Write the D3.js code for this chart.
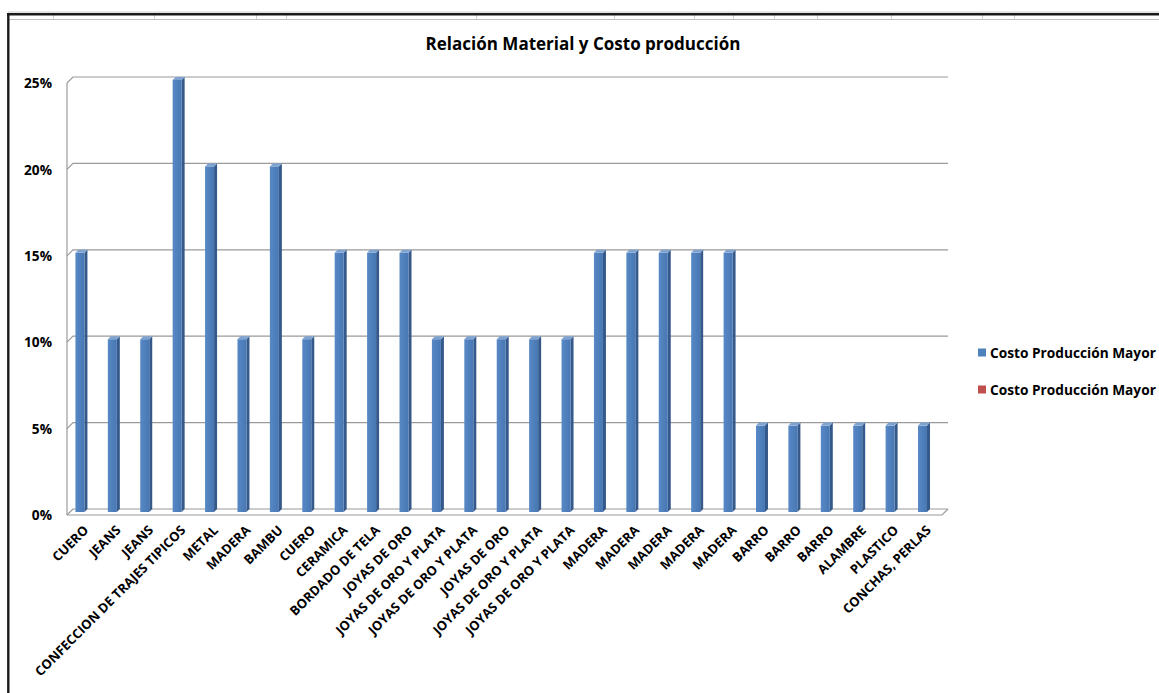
<!DOCTYPE html>
<html>
<head>
<meta charset="utf-8">
<script src="https://cdn.jsdelivr.net/npm/d3@7"></script>
<style>
  html, body { margin: 0; padding: 0; background: #fff; }
  svg { display: block; font-family: "Open Sans", Lato, sans-serif; }
</style>
</head>
<body>
<svg id="chart" width="1159" height="693"></svg>
<script>
// Materials and the share of production cost each one takes
const categories = [
  "CUERO", "JEANS", "JEANS", "CONFECCION DE TRAJES TIPICOS", "METAL", "MADERA",
  "BAMBU", "CUERO", "CERAMICA", "BORDADO DE TELA", "JOYAS DE ORO",
  "JOYAS DE ORO Y PLATA", "JOYAS DE ORO Y PLATA", "JOYAS DE ORO",
  "JOYAS DE ORO Y PLATA", "JOYAS DE ORO Y PLATA", "MADERA", "MADERA", "MADERA",
  "MADERA", "MADERA", "BARRO", "BARRO", "BARRO", "ALAMBRE", "PLASTICO",
  "CONCHAS, PERLAS"
];
const costoMayor = [
  0.15, 0.10, 0.10, 0.25, 0.20, 0.10,
  0.20, 0.10, 0.15, 0.15, 0.15,
  0.10, 0.10, 0.10,
  0.10, 0.10, 0.15, 0.15, 0.15,
  0.15, 0.15, 0.05, 0.05, 0.05, 0.05, 0.05,
  0.05
];
const seriesNames = ["Costo Producción Mayor", "Costo Producción Mayor"];
const yTicks = [0, 0.05, 0.10, 0.15, 0.20, 0.25];
const chartTitle = "Relación Material y Costo producción";

const FONT = "'Open Sans', Lato, sans-serif";
const svg = d3.select("#chart");
const W = 1159, H = 693;

svg.append("rect").attr("width", W).attr("height", H).attr("fill", "#fff");

// Spreadsheet cell strip and frame behind the chart object
const frame = svg.append("g");
const cellEdges = [53, 154, 256, 286, 476, 614, 694, 733, 774, 817, 891, 982, 1014];
frame.append("line").attr("x1", 8).attr("x2", W).attr("y1", 12).attr("y2", 12)
  .attr("stroke", "#c8c8c8").attr("stroke-width", 1);
frame.append("line").attr("x1", 8).attr("x2", W).attr("y1", 19.5).attr("y2", 19.5)
  .attr("stroke", "#bdbdbd").attr("stroke-width", 1.2);
frame.selectAll("line.cell").data(cellEdges).join("line")
  .attr("class", "cell")
  .attr("x1", d => d + 0.5).attr("x2", d => d + 0.5)
  .attr("y1", 15).attr("y2", 19)
  .attr("stroke", "#d0d0d0");
frame.append("line").attr("x1", 7).attr("x2", W).attr("y1", 14.2).attr("y2", 14.2)
  .attr("stroke", "#1a1a1a").attr("stroke-width", 2.4);
frame.append("line").attr("x1", 8.3).attr("x2", 8.3).attr("y1", 13).attr("y2", H)
  .attr("stroke", "#1a1a1a").attr("stroke-width", 2.4);

// Plot geometry (front plane plus a shallow 3D depth)
const depth = 6;
const x = d3.scaleBand().domain(d3.range(categories.length)).range([67, 942]).paddingInner(0).paddingOuter(0);
const y = d3.scaleLinear().domain([0, 0.25]).range([515, 83]);

// Title
svg.append("text")
  .attr("x", 583).attr("y", 50)
  .attr("text-anchor", "middle")
  .attr("font-family", FONT)
  .attr("font-size", 17).attr("font-weight", 700).attr("fill", "#000")
  .text(chartTitle);

// Gridlines on the back wall, with the short diagonal on the side wall
const grid = svg.append("g");
grid.selectAll("path.grid").data(yTicks).join("path")
  .attr("class", "grid")
  .attr("d", d => `M${x.range()[0]},${y(d)} L${x.range()[0] + depth},${y(d) - depth} L${x.range()[1] + depth},${y(d) - depth}`)
  .attr("fill", "none").attr("stroke", "#9a9a9a").attr("stroke-width", 1.2);
// Side wall front edge
grid.append("line")
  .attr("x1", x.range()[0]).attr("x2", x.range()[0])
  .attr("y1", y(0.25)).attr("y2", y(0))
  .attr("stroke", "#9a9a9a").attr("stroke-width", 1.2);
// Floor front edge and right edge
grid.append("path")
  .attr("d", `M${x.range()[0]},${y(0)} L${x.range()[1]},${y(0)} L${x.range()[1] + depth},${y(0) - depth}`)
  .attr("fill", "none").attr("stroke", "#9a9a9a").attr("stroke-width", 1.2);

// Bar shading
const defs = svg.append("defs");
const gFront = defs.append("linearGradient").attr("id", "barFront").attr("x1", 0).attr("x2", 1).attr("y1", 0).attr("y2", 0);
gFront.append("stop").attr("offset", "0%").attr("stop-color", "#5789c6");
gFront.append("stop").attr("offset", "100%").attr("stop-color", "#4877b3");

// 3D columns sitting at mid depth
const half = depth / 2;
const bw = 9, side = 3;
const bars = svg.append("g").selectAll("g.bar").data(costoMayor).join("g").attr("class", "bar");
const bx = (d, i) => x(i) + x.bandwidth() * 0.26;
const by0 = y(0) - half;
const byv = d => y(d) - half;

bars.append("path") // side face
  .attr("d", (d, i) => {
    const x0 = bx(d, i) + bw;
    return `M${x0},${byv(d)} L${x0 + side},${byv(d) - side} L${x0 + side},${by0 - side} L${x0},${by0} Z`;
  })
  .attr("fill", "#34598a");
bars.append("rect") // front face
  .attr("x", (d, i) => bx(d, i))
  .attr("y", d => byv(d))
  .attr("width", bw)
  .attr("height", d => by0 - byv(d))
  .attr("fill", "url(#barFront)");
bars.append("path") // top face
  .attr("d", (d, i) => {
    const x0 = bx(d, i);
    return `M${x0},${byv(d)} L${x0 + side},${byv(d) - side} L${x0 + bw + side},${byv(d) - side} L${x0 + bw},${byv(d)} Z`;
  })
  .attr("fill", "#7fa3d1");

// Value axis labels
const yAxis = d3.axisLeft(y).tickValues(yTicks).tickFormat(d3.format(".0%")).tickSize(0).tickPadding(0);
const yg = svg.append("g").attr("transform", "translate(52,0)").call(yAxis);
yg.select(".domain").remove();
yg.selectAll("text")
  .attr("font-family", FONT)
  .attr("font-size", 13.7).attr("font-weight", 700).attr("fill", "#000")
  .attr("dy", "0.35em");

// Category axis labels, rotated
const xAxis = d3.axisBottom(x).tickFormat(i => categories[i]).tickSize(0);
const xg = svg.append("g").attr("transform", `translate(0,${y(0)})`).call(xAxis);
xg.select(".domain").remove();
xg.selectAll("text")
  .attr("font-family", FONT)
  .attr("font-size", 13).attr("font-weight", 700).attr("fill", "#000")
  .attr("text-anchor", "end")
  .attr("x", 0).attr("y", 0).attr("dy", 0)
  .attr("transform", "translate(6,16) rotate(-45)");

// Legend
const legendColors = ["#4f81bd", "#c0504d"];
const legend = svg.append("g").attr("transform", "translate(978,353)");
const li = legend.selectAll("g").data(seriesNames).join("g")
  .attr("transform", (d, i) => `translate(0,${i * 37})`);
li.append("rect").attr("x", 0).attr("y", -4.5).attr("width", 8).attr("height", 8)
  .attr("fill", (d, i) => legendColors[i]);
li.append("text").attr("x", 12).attr("y", 0).attr("dy", "0.35em")
  .attr("font-family", FONT)
  .attr("font-size", 13.7).attr("font-weight", 700).attr("fill", "#000")
  .text(d => d);
</script>
</body>
</html>
